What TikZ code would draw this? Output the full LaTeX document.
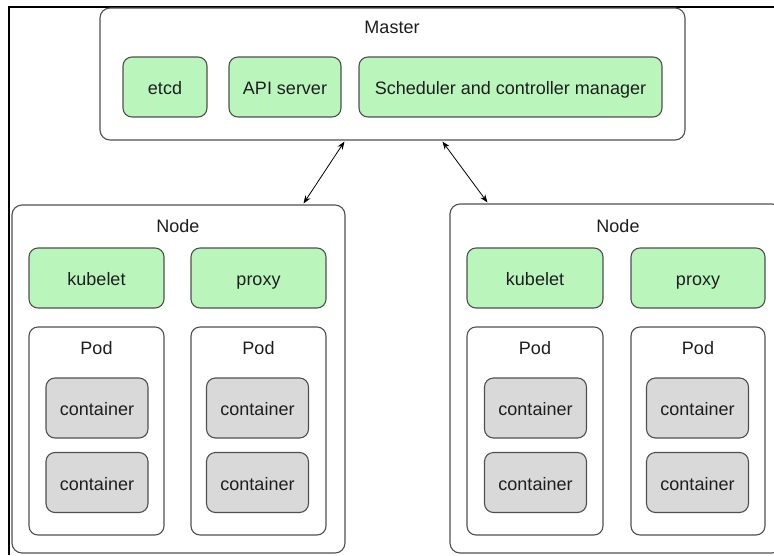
\documentclass[tikz,border=0pt]{standalone}
\usepackage{fontspec}
\setmainfont{Liberation Sans}
\usetikzlibrary{arrows.meta,calc}
\definecolor{boxgreen}{RGB}{186,246,188}
\definecolor{boxgray}{RGB}{217,217,217}
\definecolor{edgegray}{RGB}{80,80,80}
\definecolor{txt}{RGB}{30,30,30}
\begin{document}
\begin{tikzpicture}[x=1pt,y=-1pt,
  every node/.style={font=\fontsize{18}{22}\selectfont, text=txt, inner sep=0pt, text height=15pt, text depth=0pt},
  outerbox/.style={draw=edgegray, line width=1.1pt, rounded corners=10pt, fill=white},
  greenbox/.style={draw=edgegray, line width=1.1pt, rounded corners=9pt, fill=boxgreen},
  podbox/.style={draw=edgegray, line width=1.1pt, rounded corners=9pt, fill=white},
  contbox/.style={draw=edgegray, line width=1.1pt, rounded corners=9pt, fill=boxgray, minimum width=102pt, minimum height=60pt},
  lbl/.style={},
  arr/.style={line width=0.8pt, black, {Stealth[length=8pt,width=6pt]}-{Stealth[length=8pt,width=6pt]}}
]
\useasboundingbox (0,0) rectangle (774,555);
\clip (0,0) rectangle (774,555);
\fill[white] (0,0) rectangle (774,555);
% frame
\draw[black, line width=2.6pt] (9,555) -- (9,7) -- (774,7);

% Master
\node[outerbox, minimum width=585pt, minimum height=132pt] (master) at (392.5,74) {};
\node[lbl] (masterlbl) at (392,26) {Master};
\node[greenbox, minimum width=84pt, minimum height=60pt] (etcd) at (165,87) {etcd};
\node[greenbox, minimum width=112pt, minimum height=60pt] (api) at (285,87) {API server};
\node[greenbox, minimum width=303pt, minimum height=60pt] (sched) at (510.5,87) {Scheduler and controller manager};

% Left node
\node[outerbox, minimum width=333pt, minimum height=348pt] (nodeL) at (178.5,379) {};
\node[lbl] (nodeLlbl) at (178,225) {Node};
\node[greenbox, minimum width=135pt, minimum height=60pt] (kubeL) at (96.5,278) {kubelet};
\node[greenbox, minimum width=135pt, minimum height=60pt] (proxyL) at (258.5,278) {proxy};
\node[podbox, minimum width=135pt, minimum height=208pt] (podL1) at (96.5,431) {};
\node[lbl] (podL1lbl) at (96.5,347) {Pod};
\node[contbox] (cL1a) at (97,408) {container};
\node[contbox] (cL1b) at (97,482.5) {container};
\node[podbox, minimum width=135pt, minimum height=208pt] (podL2) at (258.5,431) {};
\node[lbl] (podL2lbl) at (258.5,347) {Pod};
\node[contbox] (cL2a) at (257.5,408) {container};
\node[contbox] (cL2b) at (257.5,482.5) {container};

% Right node
\node[outerbox, minimum width=332pt, minimum height=349pt] (nodeR) at (616,378.5) {};
\node[lbl] (nodeRlbl) at (618,225) {Node};
\node[greenbox, minimum width=136pt, minimum height=60pt] (kubeR) at (535,278) {kubelet};
\node[greenbox, minimum width=134pt, minimum height=60pt] (proxyR) at (698,278) {proxy};
\node[podbox, minimum width=136pt, minimum height=208pt] (podR1) at (535,431) {};
\node[lbl] (podR1lbl) at (535,347) {Pod};
\node[contbox] (cR1a) at (535.5,408) {container};
\node[contbox] (cR1b) at (535.5,482.5) {container};
\node[podbox, minimum width=134pt, minimum height=208pt] (podR2) at (698,431) {};
\node[lbl] (podR2lbl) at (698,347) {Pod};
\node[contbox] (cR2a) at (697.5,408) {container};
\node[contbox] (cR2b) at (697.5,482.5) {container};

% arrows
\draw[arr] ($(master.south west)+(245,1)$) -- ($(nodeL.north east)+(-42,-1)$);
\draw[arr] ($(master.south west)+(343,1)$) -- ($(nodeR.north west)+(38,-1)$);
\end{tikzpicture}
\end{document}
